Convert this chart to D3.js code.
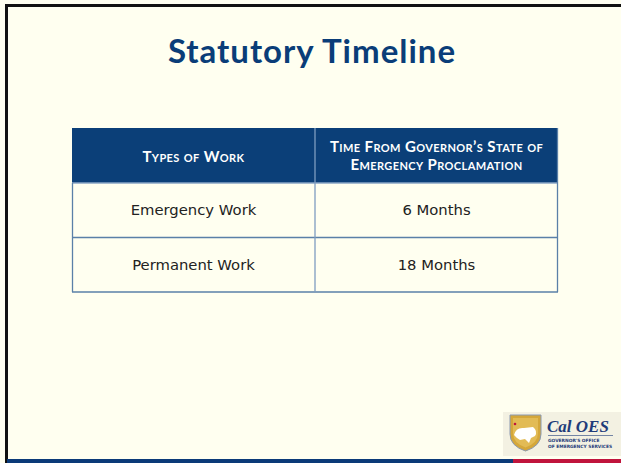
<!DOCTYPE html>
<html><head><meta charset="utf-8">
<script src="https://cdn.jsdelivr.net/npm/d3@7"></script>
<style>html,body{margin:0;padding:0;background:#fffff0;}svg{display:block;}</style>
</head><body>
<script>
const title = "Statutory Timeline";
const headers = [["Types of Work"], ["Time From Governor’s State of", "Emergency Proclamation"]];
const workTypes = ["Emergency Work", "Permanent Work"];
const timeframes = ["6 Months", "18 Months"];

const W = 621, H = 463;
const svg = d3.select("body").append("svg").attr("width", W).attr("height", H);
svg.append("rect").attr("width", W).attr("height", H).attr("fill", "#fffff0");

// frame
svg.append("rect").attr("x", 5).attr("y", 4).attr("width", W - 5).attr("height", 3).attr("fill", "#111");
svg.append("rect").attr("x", 5).attr("y", 4).attr("width", 3).attr("height", H - 4).attr("fill", "#111");
svg.append("rect").attr("x", 7).attr("y", 459).attr("width", 506).attr("height", 4).attr("fill", "#0b3a78");
svg.append("rect").attr("x", 513).attr("y", 459).attr("width", W - 513).attr("height", 4).attr("fill", "#c0143c");

// title
svg.append("text").attr("x", 312).attr("y", 63).attr("text-anchor", "middle")
  .attr("font-family", "Lato, 'DejaVu Sans', sans-serif").attr("font-weight", 700)
  .attr("font-size", 33).attr("letter-spacing", 1).attr("fill", "#0a3d78").text(title);

// table
const colX = [72, 315, 558];
const rowY = d3.scaleBand().domain(d3.range(workTypes.length)).range([183, 292]);
const headTop = 128, headBot = 183;

svg.append("rect").attr("x", 72).attr("y", headTop).attr("width", 486).attr("height", headBot - headTop).attr("fill", "#0b3f78");
const g = svg.append("g");
g.selectAll("rect.row").data(workTypes).join("rect").attr("class", "row")
  .attr("x", 72).attr("y", (d, i) => rowY(i)).attr("width", 486).attr("height", rowY.bandwidth())
  .attr("fill", "#fffff0");
const lineC = "#5a80a8";
[183, ...d3.range(workTypes.length).map(i => rowY(i) + rowY.bandwidth())].forEach(yv => {
  svg.append("line").attr("x1", 72).attr("x2", 558).attr("y1", yv).attr("y2", yv)
    .attr("stroke", yv === 183 ? "#8aa6c6" : lineC).attr("stroke-width", yv === 183 ? 1.5 : 1.3);
});
svg.append("line").attr("x1", 72.5).attr("x2", 72.5).attr("y1", 183).attr("y2", 292).attr("stroke", lineC).attr("stroke-width", 1.3);
svg.append("line").attr("x1", 557.5).attr("x2", 557.5).attr("y1", 128).attr("y2", 292).attr("stroke", lineC).attr("stroke-width", 1.3);
svg.append("line").attr("x1", 315).attr("x2", 315).attr("y1", 128).attr("y2", 292).attr("stroke", "#7f9dc0").attr("stroke-width", 1.3);

// headers
const hf = "Lato, 'DejaVu Sans', sans-serif";
headers.forEach((lines, c) => {
  const cx = (colX[c] + colX[c + 1]) / 2;
  const y0 = lines.length === 1 ? 162 : 152;
  lines.forEach((ln, k) => {
    svg.append("text").attr("x", cx).attr("y", y0 + k * 18).attr("text-anchor", "middle")
      .attr("font-family", hf).attr("font-weight", 700).attr("font-size", 15).attr("letter-spacing", 0.4)
      .style("font-variant", "small-caps").attr("fill", "#fff").text(ln);
  });
});
// body
const bf = "'DejaVu Sans', sans-serif";
workTypes.forEach((w, i) => {
  const yc = rowY(i) + rowY.bandwidth() / 2 + 5;
  svg.append("text").attr("x", (colX[0] + colX[1]) / 2).attr("y", yc).attr("text-anchor", "middle")
    .attr("font-family", bf).attr("font-size", 14.8).attr("fill", "#222").text(w);
  svg.append("text").attr("x", (colX[1] + colX[2]) / 2).attr("y", yc).attr("text-anchor", "middle")
    .attr("font-family", bf).attr("font-size", 14.8).attr("fill", "#222").text(timeframes[i]);
});

// logo
const lg = svg.append("g");
lg.append("rect").attr("x", 503).attr("y", 412).attr("width", 118).attr("height", 44).attr("fill", "#f3f1e2");
lg.append("path").attr("d", "M510,415 L541,415 L541,434 Q541,446 525.5,451 Q510,446 510,434 Z")
  .attr("fill", "#d4a73a").attr("stroke", "#8a99b0").attr("stroke-width", 1);
lg.append("path").attr("d", "M513,418 L538,418 L538,433 Q538,443 525.5,447.5 Q513,443 513,433 Z").attr("fill", "#e2bb55");
lg.append("path").attr("d", "M514,435 Q516,427 524,428 L533,427 Q538,431 535,436 L531,438 L529,443 L525,439 L520,440 L517,438 Z").attr("fill", "#fff");
lg.append("circle").attr("cx", 515).attr("cy", 424).attr("r", 1.3).attr("fill", "#c0143c");
lg.append("text").attr("x", 547).attr("y", 432).attr("font-family", "'Liberation Serif', serif")
  .attr("font-style", "italic").attr("font-weight", 700).attr("font-size", 17).attr("fill", "#1f3c7a").text("Cal OES");
lg.append("line").attr("x1", 548).attr("x2", 613).attr("y1", 435.5).attr("y2", 435.5).attr("stroke", "#1f3c7a").attr("stroke-width", 0.6);
lg.append("text").attr("x", 548).attr("y", 441.5).attr("font-family", "'DejaVu Sans', sans-serif")
  .attr("font-weight", 700).attr("font-size", 4.4).attr("fill", "#1f3c7a").text("GOVERNOR'S OFFICE");
lg.append("text").attr("x", 548).attr("y", 447.5).attr("font-family", "'DejaVu Sans', sans-serif")
  .attr("font-weight", 700).attr("font-size", 4.4).attr("fill", "#1f3c7a").text("OF EMERGENCY SERVICES");
</script>
</body></html>
